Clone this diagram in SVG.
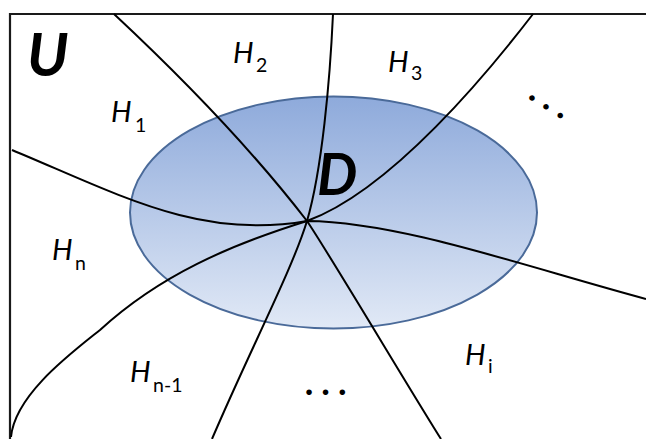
<svg xmlns="http://www.w3.org/2000/svg" width="646" height="439" viewBox="0 0 646 439">
  <defs>
    <linearGradient id="g" x1="0" y1="0" x2="0" y2="1">
      <stop offset="0" stop-color="#8eaadb"/>
      <stop offset="1" stop-color="#e1e9f6"/>
    </linearGradient>
    <style>
      .frame{fill:none;stroke:#1a1a1a;stroke-width:2.2}
      .c{fill:none;stroke:#000;stroke-width:2}
      .lbl{font-family:Lato,"Liberation Sans",sans-serif;font-style:italic;font-size:29px;fill:#000}
      .sub{font-family:Lato,"Liberation Sans",sans-serif;font-style:normal;font-size:19.5px;fill:#000}
      .big{font-family:Lato,"Liberation Sans",sans-serif;font-style:italic;font-weight:bold;fill:#000}
      .dots{font-family:Lato,"Liberation Sans",sans-serif;font-weight:900;font-size:34px;letter-spacing:8.5px;fill:#000}
    </style>
  </defs>
  <rect width="646" height="439" fill="#fff"/>
  <g id="frame">
    <path class="frame" d="M10,439 V14 H646"/>
  </g>
  <g id="D">
    <ellipse cx="333.5" cy="212.5" rx="203.5" ry="116" fill="url(#g)" stroke="#4a6a99" stroke-width="2"/>
  </g>
  <g id="connectors">
    <path class="c" d="M114,14 C190,85 260,160 307,221 C330,255 410,390 441,439"/>
    <path class="c" d="M333,14 C330,80 322,170 307,221 C292,270 250,350 212,439"/>
    <path class="c" d="M533,14 C490,70 392,190 307,221 C230,245 160,275 100,330 C70,354 15,395 11,437"/>
    <path class="c" d="M12,150 C120,195 200,240 307,221 C400,222 520,265 646,299"/>
  </g>
  <g id="labels">
    <text class="big" x="27" y="76" font-size="60">U</text>
    <text class="big" x="317" y="195" font-size="57">D</text>
    <g id="H1"><text class="lbl" x="111" y="122">H</text><text class="sub" x="135" y="132">1</text></g>
    <g id="H2"><text class="lbl" x="233" y="63">H</text><text class="sub" x="256" y="72">2</text></g>
    <g id="H3"><text class="lbl" x="388" y="72">H</text><text class="sub" x="411" y="80">3</text></g>
    <g id="Hn"><text class="lbl" x="52" y="260">H</text><text class="sub" x="75" y="270">n</text></g>
    <g id="Hn-1"><text class="lbl" x="130" y="382">H</text><text class="sub" x="153" y="392">n-1</text></g>
    <g id="Hi"><text class="lbl" x="465" y="365">H</text><text class="sub" x="488" y="373">i</text></g>
    <text class="dots" x="305" y="395">...</text>
    <text class="dots" x="-4" y="2.5" transform="translate(532 98) rotate(32)">...</text>
  </g>
</svg>
